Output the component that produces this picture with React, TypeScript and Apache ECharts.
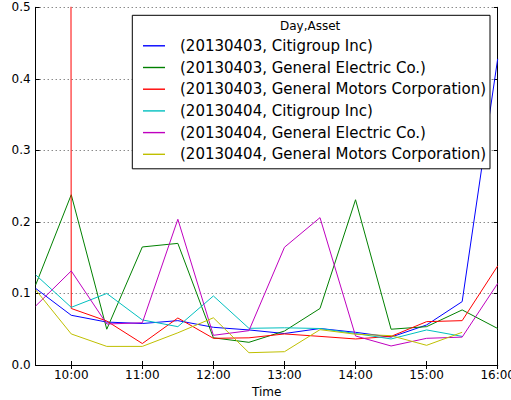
import React, { useEffect, useRef } from "react";
import * as echarts from "echarts";

const times = ["09:30", "10:00", "10:30", "11:00", "11:30", "12:00", "12:30", "13:00", "13:30", "14:00", "14:30", "15:00", "15:30", "16:00"];
const yTicks = [0, 0.1, 0.2, 0.3, 0.4, 0.5];
const seriesNames = [
  "(20130403, Citigroup Inc)",
  "(20130403, General Electric Co.)",
  "(20130403, General Motors Corporation)",
  "(20130404, Citigroup Inc)",
  "(20130404, General Electric Co.)",
  "(20130404, General Motors Corporation)",
];
const citi0403 = [0.107, 0.0695, 0.06, 0.058, 0.062, 0.0527, 0.049, 0.044, 0.051, 0.0457, 0.039, 0.056, 0.0886, 0.428];
const ge0403 = [0.112, 0.238, 0.05, 0.165, 0.17, 0.038, 0.0317, 0.0475, 0.079, 0.231, 0.05, 0.0536, 0.077, 0.051];
const gm0403 = [60, 0.079, 0.0615, 0.03, 0.0657, 0.0373, 0.038, 0.0434, 0.04, 0.0364, 0.04, 0.0606, 0.062, 0.1385];
const citi0404 = [0.126, 0.0806, 0.1, 0.063, 0.0536, 0.0965, 0.0513, 0.052, 0.051, 0.044, 0.0364, 0.049, 0.04, null];
const ge0404 = [0.0825, 0.1315, 0.0573, 0.059, 0.2037, 0.0415, 0.048, 0.1646, 0.206, 0.0406, 0.0266, 0.0373, 0.039, 0.114];
const gm0404 = [0.105, 0.0434, 0.026, 0.026, 0.045, 0.066, 0.0172, 0.0186, 0.0494, 0.043, 0.041, 0.0275, 0.0457, null];
const seriesData = [citi0403, ge0403, gm0403, citi0404, ge0404, gm0404];
const colors = ["#0000ff", "#008000", "#ff0000", "#00bfbf", "#bf00bf", "#bfbf00"];
const legendTitle = "Day,Asset";
const xName = "Time";

const FONT = "DejaVu Sans";
const LINE_ICON = "path://M0,0 L22,0 L22,1.4 L0,1.4 Z";

export default function App() {
  const ref = useRef<HTMLDivElement>(null);
  useEffect(() => {
    if (!ref.current) return;
    const chart = echarts.init(ref.current, undefined, { renderer: "svg" });
    const hourOnly = (i: number) => i % 2 === 1;
    chart.setOption({
      animation: false,
      backgroundColor: "#fff",
      textStyle: { fontFamily: FONT },
      grid: { left: 35.7, right: 13.3, top: 7.3, bottom: 35, containLabel: false, outerBoundsMode: "none" },
      xAxis: [
        {
          type: "category",
          data: times,
          boundaryGap: false,
          position: "bottom",
          name: xName,
          nameLocation: "middle",
          nameGap: 19,
          nameTextStyle: { fontFamily: FONT, fontSize: 12, color: "#000" },
          axisLine: { show: true, lineStyle: { color: "#000", width: 1 } },
          axisTick: { show: true, inside: true, length: 4, interval: hourOnly, lineStyle: { color: "#000" } },
          axisLabel: { interval: hourOnly, margin: 4, fontFamily: FONT, fontSize: 12, color: "#000" },
          splitLine: { show: false },
        },
        {
          type: "category",
          data: times,
          boundaryGap: false,
          position: "top",
          axisLine: { show: true, lineStyle: { color: "#000", width: 1 } },
          axisTick: { show: true, inside: true, length: 4, interval: hourOnly, lineStyle: { color: "#000" } },
          axisLabel: { show: false },
          splitLine: { show: false },
        },
      ],
      yAxis: [
        {
          type: "value",
          min: yTicks[0],
          max: yTicks[yTicks.length - 1],
          interval: 0.1,
          position: "left",
          axisLine: { show: true, lineStyle: { color: "#000", width: 1 } },
          axisTick: { show: true, inside: true, length: 4, lineStyle: { color: "#000" } },
          axisLabel: { margin: 5, fontFamily: FONT, fontSize: 12, color: "#000", formatter: (v: number) => v.toFixed(1) },
          splitLine: { show: true, lineStyle: { color: "#555", type: [1, 3], width: 1 } },
        },
        {
          type: "value",
          min: yTicks[0],
          max: yTicks[yTicks.length - 1],
          interval: 0.1,
          position: "right",
          axisLine: { show: true, lineStyle: { color: "#000", width: 1 } },
          axisTick: { show: true, inside: true, length: 4, lineStyle: { color: "#000" } },
          axisLabel: { show: false },
          splitLine: { show: false },
        },
      ],
      legend: {
        orient: "vertical",
        left: 132.3,
        top: 15.3,
        data: seriesNames.map((name) => ({ name, icon: LINE_ICON })),
        backgroundColor: "#fff",
        borderColor: "#000",
        borderWidth: 1,
        borderRadius: 0,
        padding: [23, 4, 7, 10.7],
        itemWidth: 22,
        itemHeight: 15,
        itemGap: 6.7,
        selectedMode: false,
        textStyle: { fontFamily: FONT, fontSize: 15, color: "#000", lineHeight: 15, padding: [0, 0, 0, 10] },
      },
      graphic: [
        {
          type: "text",
          left: 280,
          top: 19.5,
          z: 100,
          style: { text: legendTitle, fontFamily: FONT, fontSize: 12, fill: "#000" },
        },
      ],
      series: seriesNames.map((name, i) => ({
        name,
        type: "line",
        data: seriesData[i],
        xAxisIndex: 0,
        yAxisIndex: 0,
        symbol: "none",
        clip: true,
        connectNulls: false,
        lineStyle: { color: colors[i], width: 1 },
        itemStyle: { color: colors[i] },
        emphasis: { disabled: true },
      })),
    });
    return () => chart.dispose();
  }, []);
  return <div ref={ref} style={{ position: "fixed", left: 0, top: 0, width: 511, height: 400 }} />;
}
